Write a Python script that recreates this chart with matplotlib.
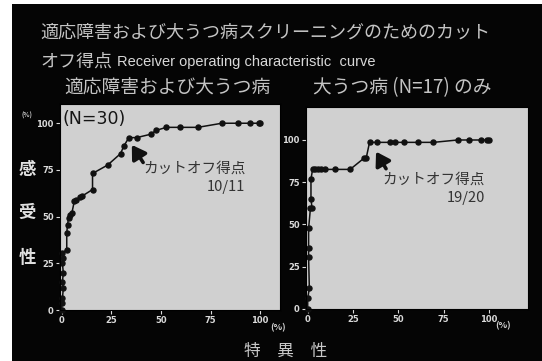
import matplotlib
matplotlib.use("Agg")
import matplotlib.pyplot as plt
from matplotlib.patches import Rectangle

plt.rcParams["font.family"] = ["Noto Sans CJK JP", "DejaVu Sans"]

# ROC: 適応障害および大うつ病 (N=30)
all_spec = [0, 0, 0.3, 0.8, 0.3, 0.8, 0.3, 0.8, 0.3, 2.5, 2.5, 2.9, 3.4, 4.2, 5.1,
            6.3, 7.1, 9.3, 10.1, 15.5, 15.5, 23.1, 29.6, 31.3, 33.8, 37.7, 44.8,
            47.6, 52.7, 59.7, 68.6, 80.7, 88.7, 95.0, 99.2, 100]
all_sens = [0, 3.6, 6.3, 11.6, 15.2, 19.7, 25.1, 27.8, 30.5, 32.3, 41.2, 45.7, 49.3,
            51.1, 52.0, 58.2, 58.8, 60.4, 60.9, 64.5, 73.1, 77.6, 83.7, 87.8, 92.3,
            92.3, 94.1, 96.2, 97.8, 97.8, 97.8, 100, 100, 100, 100, 100]

# ROC: 大うつ病 (N=17) のみ
mdd_spec = [0, 0, 0.9, 0.5, 0.5, 0.5, 1.5, 2.4, 1.8, 1.8, 2.7, 4.2, 5.5, 7.3, 9.5,
            15.0, 23.4, 31.0, 32.3, 34.1, 38.3, 45.4, 48.2, 53.3, 61.0, 69.3, 82.7,
            89.2, 95.6, 99.1, 100]
mdd_sens = [0, 6.3, 12.2, 30.6, 35.9, 47.7, 59.6, 59.6, 65.1, 76.9, 82.6, 82.6, 82.6,
            82.6, 82.6, 82.6, 82.6, 89.2, 89.5, 98.6, 98.6, 98.6, 98.6, 98.6, 98.6,
            98.6, 100, 100, 100, 100, 100]

ticks = [0, 25, 50, 75, 100]

W, H = 542, 361
fig = plt.figure(figsize=(W / 100, H / 100), dpi=100, facecolor="white")
fig.patches.append(Rectangle((12 / W, 0), 1, (H - 4) / H, transform=fig.transFigure,
                             facecolor="#050505", edgecolor="none", zorder=-10))


def px(x, y):
    return x / W, 1 - y / H


title_col = "#c4c4c4"
fig.text(*px(40, 33), "適応障害および大うつ病スクリーニングのためのカット",
         color=title_col, fontsize=13, va="center", ha="left")
fig.text(*px(40, 62), "オフ得点", color=title_col, fontsize=13, va="center")
fig.text(*px(117, 62), "Receiver operating characteristic  curve",
         color="#d8d8d8", fontsize=10.5, va="center", family=["Liberation Sans"])
fig.text(*px(167, 88), "適応障害および大うつ病", color=title_col, fontsize=13.5,
         va="center", ha="center")
fig.text(*px(402, 88), "大うつ病 (N=17) のみ", color=title_col, fontsize=13.5,
         va="center", ha="center")

# 縦軸ラベル
for ch, y in zip("感受性", [170, 213, 258]):
    fig.text(*px(27, y), ch, color="#e0e0e0", fontsize=12.5, fontweight="bold",
             va="center", ha="center")
fig.text(*px(27, 115), "(%)", color="#d0d0d0", fontsize=4.5, fontweight="bold",
         va="center", ha="center")
fig.text(*px(278, 328), "(%)", color="#d0d0d0", fontsize=6.5, fontweight="bold",
         va="center", ha="center")
fig.text(*px(503, 326), "(%)", color="#d0d0d0", fontsize=6.5, fontweight="bold",
         va="center", ha="center")
fig.text(*px(286, 351), "特　異　性", color="#c8c8c8", fontsize=12,
         va="center", ha="center")


def style_axes(ax):
    ax.set_facecolor("#d0d0d0")
    for s in ax.spines.values():
        s.set_color("black")
    ax.set_xticks(ticks)
    ax.set_yticks(ticks)
    ax.tick_params(direction="out", length=3, width=0.8, colors="#dadada",
                   labelsize=6, pad=1.5)
    for lbl in ax.get_xticklabels() + ax.get_yticklabels():
        lbl.set_fontweight("bold")
        lbl.set_family(["DejaVu Sans"])


ax1 = fig.add_axes([60 / W, (H - 310) / H, 220 / W, 206 / H])
style_axes(ax1)
ax1.set_xlim(-0.9, 110)
ax1.set_ylim(0, 110.3)
ax1.plot(all_spec, all_sens, color="#111111", lw=1.1, marker="o", ms=3.6,
         clip_on=False)
ax1.text(0.5, 107, "(N=30)", color="#151515", fontsize=12.5, va="top", ha="left",
         family=["DejaVu Sans"])
ax1.annotate("", xy=(35.3, 88.4), xytext=(41.0, 79.0),
             arrowprops=dict(arrowstyle="-|>,head_length=0.8,head_width=0.5",
                             color="#111111", lw=2.6, shrinkA=0, shrinkB=0))
ax1.text(92.5, 75.5, "カットオフ得点", color="#333333", fontsize=10.5,
         ha="right", va="center")
ax1.text(92.5, 66, "10/11", color="#333333", fontsize=10.5, ha="right", va="center")

ax2 = fig.add_axes([306 / W, (H - 309) / H, 222 / W, 202.3 / H])
style_axes(ax2)
ax2.set_xlim(-0.94, 121.5)
ax2.set_ylim(0, 119.7)
ax2.plot(mdd_spec, mdd_sens, color="#111111", lw=1.1, marker="o", ms=3.6,
         clip_on=False)
ax2.annotate("", xy=(37.7, 93.1), xytext=(43.2, 83.0),
             arrowprops=dict(arrowstyle="-|>,head_length=0.8,head_width=0.5",
                             color="#111111", lw=2.6, shrinkA=0, shrinkB=0))
ax2.text(97.8, 76.3, "カットオフ得点", color="#333333", fontsize=10.5,
         ha="right", va="center")
ax2.text(97.8, 65.7, "19/20", color="#333333", fontsize=10.5, ha="right", va="center")

fig.savefig("out.png", dpi=100, facecolor=fig.get_facecolor())
